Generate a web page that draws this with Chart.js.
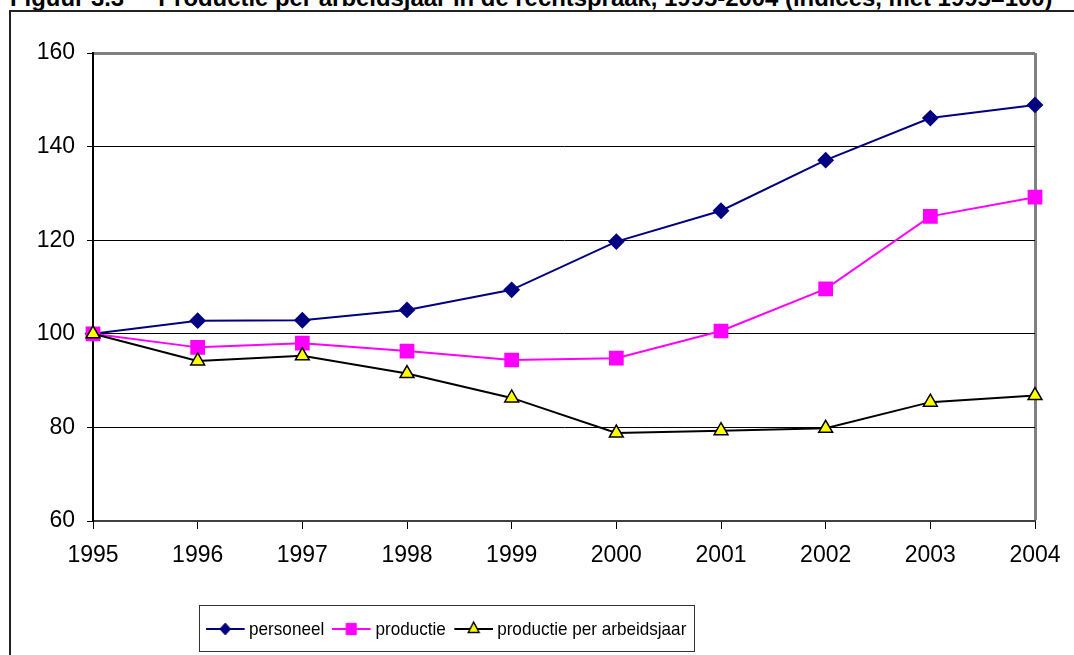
<!DOCTYPE html>
<html>
<head>
<meta charset="utf-8">
<script src="https://cdn.jsdelivr.net/npm/chart.js@4.4.1/dist/chart.umd.min.js"></script>
<style>
  html, body { margin: 0; padding: 0; background: #fff; overflow: hidden; }
  body { width: 1074px; height: 655px; position: relative; font-family: "Liberation Sans", Arial, sans-serif; }
  #title { position: absolute; left: 10px; top: -14px; font-size: 23.9px; line-height: 23.5px; font-weight: bold; white-space: nowrap; color: #000; }
  #title span { margin-left: 34px; }
  #frame { position: absolute; left: 9px; top: 10px; width: 1200px; height: 800px; border-left: 2px solid #222; border-top: 2px solid #222; }
  #wrap { position: absolute; left: 0; top: 0; width: 1074px; height: 655px; }
  #legendbox { position: absolute; left: 199px; top: 605px; width: 494px; height: 45px; border: 1px solid #333; background: #fff; }
  #legend { position: absolute; left: 5px; top: 0; height: 45px; display: flex; align-items: center; white-space: nowrap;
            font-size: 19px; color: #000; transform: scaleX(0.9); transform-origin: 0 50%; }
  #legend .item { display: flex; align-items: center; margin-right: 8px; flex: none; }
  #legend canvas { margin-right: 4px; }
</style>
</head>
<body>
<div id="title">Figuur 3.3<span>Productie per arbeidsjaar in de rechtspraak, 1995-2004 (indices, met 1995=100)</span></div>
<div id="frame"></div>
<div id="wrap"><canvas id="chart"></canvas></div>
<div id="legendbox"><div id="legend"></div></div>
<script>
// data (index, 1995 = 100)
const years = ['1995', '1996', '1997', '1998', '1999', '2000', '2001', '2002', '2003', '2004'];
const personeel = [100, 102.8, 102.9, 105.1, 109.4, 119.7, 126.3, 137.1, 146.1, 148.9];
const productie = [100, 97.1, 98.0, 96.3, 94.4, 94.8, 100.6, 109.6, 125.1, 129.2];
const productiePerArbeidsjaar = [100, 94.2, 95.3, 91.5, 86.3, 78.8, 79.3, 79.8, 85.4, 86.8];
const yTicks = [60, 80, 100, 120, 140, 160];

const ctx = document.getElementById('chart').getContext('2d');

const chart = new Chart(ctx, {
    type: 'line',
    data: {
        labels: years,
        datasets: [
            {
                label: 'personeel',
                data: personeel,
                borderColor: '#000080',
                backgroundColor: '#000080',
                borderWidth: 2,
                pointStyle: 'rectRot',
                pointRadius: 7,
                pointHoverRadius: 7,
                tension: 0,
                clip: false,
                order: 2
            },
            {
                label: 'productie',
                data: productie,
                borderColor: '#FF00FF',
                backgroundColor: '#FF00FF',
                borderWidth: 2,
                pointStyle: 'rect',
                pointRadius: 9,
                pointHoverRadius: 9,
                tension: 0,
                clip: false,
                order: 1
            },
            {
                label: 'productie per arbeidsjaar',
                data: productiePerArbeidsjaar,
                borderColor: '#000000',
                backgroundColor: '#FFFF00',
                pointBorderColor: '#000000',
                pointBorderWidth: 1.5,
                borderWidth: 2,
                pointStyle: 'triangle',
                pointRadius: 8,
                pointHoverRadius: 8,
                tension: 0,
                clip: false,
                order: 0
            }
        ]
    },
    options: {
        responsive: true,
        maintainAspectRatio: false,
        animation: false,
        layout: {
            padding: { left: 10, right: 39, top: 53, bottom: 84 }
        },
        plugins: {
            legend: { display: false },
            tooltip: { enabled: false }
        },
        scales: {
            x: {
                type: 'category',
                offset: false,
                afterFit: function(scale) { scale.height = 50; },
                ticks: {
                    color: '#000',
                    font: { family: 'Liberation Sans', size: 23 },
                    padding: 13,
                    maxRotation: 0,
                    autoSkip: false
                },
                grid: {
                    drawOnChartArea: true,
                    color: function(c) { return c.index === years.length - 1 ? '#808080' : 'rgba(0,0,0,0)'; },
                    lineWidth: function(c) { return c.index === years.length - 1 ? 3 : 1; },
                    tickColor: '#000',
                    tickWidth: 1,
                    tickLength: 8
                },
                border: { color: '#404040', width: 2 }
            },
            y: {
                min: 60,
                max: 160,
                afterFit: function(scale) { scale.width = 83; },
                afterBuildTicks: function(scale) { scale.ticks = yTicks.map(v => ({ value: v })); },
                ticks: {
                    color: '#000',
                    font: { family: 'Liberation Sans', size: 23 },
                    padding: 12
                },
                grid: {
                    color: function(c) { return c.tick && c.tick.value === 160 ? '#808080' : '#000'; },
                    lineWidth: function(c) { return c.tick && c.tick.value === 160 ? 3 : 1; },
                    tickColor: '#000',
                    tickWidth: 1,
                    tickLength: 6
                },
                border: { color: '#000', width: 2 }
            }
        }
    }
});

// html legend built from the datasets, in dataset order
const legendEl = document.getElementById('legend');
chart.data.datasets.forEach(ds => {
    const item = document.createElement('div');
    item.className = 'item';
    const icon = document.createElement('canvas');
    icon.width = 45; icon.height = 22;
    const ic = icon.getContext('2d');
    ic.strokeStyle = ds.borderColor;
    ic.lineWidth = 2.2;
    ic.beginPath(); ic.moveTo(1, 11); ic.lineTo(44, 11); ic.stroke();
    ic.fillStyle = ds.backgroundColor;
    ic.strokeStyle = ds.pointBorderColor || ds.borderColor;
    ic.lineWidth = ds.pointBorderWidth || 1;
    Chart.helpers.drawPoint(ic, { pointStyle: ds.pointStyle, radius: ds.pointRadius - 1, borderWidth: ic.lineWidth }, 22.5, 11);
    const txt = document.createElement('span');
    txt.textContent = ds.label;
    item.appendChild(icon);
    item.appendChild(txt);
    legendEl.appendChild(item);
});
</script>
</body>
</html>
